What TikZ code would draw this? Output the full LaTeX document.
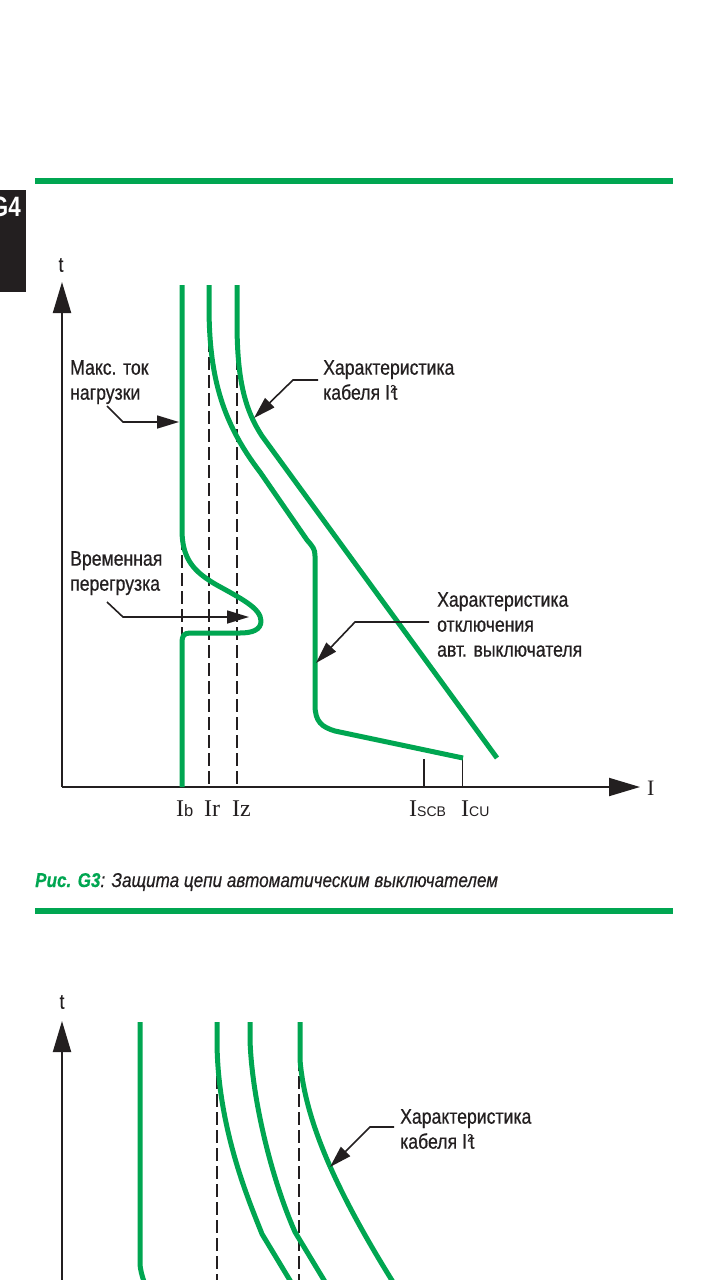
\documentclass[tikz,border=0pt]{standalone}
\usepackage{fontspec}
\setmainfont{Liberation Sans}
\newfontfamily\cond[FakeStretch=0.84,FakeBold=0.6]{Liberation Sans}
\newfontfamily\capfont[FakeStretch=0.855,FakeBold=0.4]{Liberation Sans}
\newfontfamily\tabfont[FakeStretch=0.8]{Liberation Sans}
\newfontfamily\tms{Liberation Serif}
\usetikzlibrary{arrows.meta}
\definecolor{sgreen}{RGB}{0,166,81}
\definecolor{ink}{RGB}{35,31,32}
\begin{document}
\begin{tikzpicture}[x=1pt,y=-1pt,
  gcurve/.style={draw=sgreen, line width=5pt, line join=round},
  dline/.style={draw=ink, line width=1.3pt, dash pattern=on 13pt off 5pt},
  axisline/.style={draw=ink, line width=2pt, -{Triangle[length=31pt,width=18pt]}},
  lead/.style={draw=ink, line width=1.6pt, -{Triangle[length=22pt,width=13pt]}},
  lbl/.style={font=\cond\fontsize{21}{25}\selectfont, align=left, inner sep=0pt, text=ink, anchor=north west},
  tick/.style={draw=ink, line width=1.3pt},
  hrule/.style={draw=sgreen, line width=6pt},
  cur/.style={inner sep=0pt, anchor=base west, text=ink},
  axl/.style={inner sep=0pt, text=ink, font=\cond\fontsize{21}{21}\selectfont}
]
\useasboundingbox (0,0) rectangle (720,1280);
\fill[white] (0,0) rectangle (720,1280);
\clip (0,0) rectangle (720,1280);

% ---- page decorations ----
\draw[hrule] (35,181) -- (673,181);
\draw[hrule] (35,911) -- (673,911);
\fill[ink] (0,190) rectangle (25.5,292);
\begin{scope}
\clip (0,190) rectangle (25.5,292);
\node[inner sep=0pt, anchor=north east, text=white, font=\tabfont\bfseries\fontsize{28}{28}\selectfont] (tab) at (21,197) {G4};
\end{scope}

% ================= GRAPH 1 =================
\coordinate (o1) at (62,787);
\coordinate (yt1) at (62,282);
\coordinate (xt1) at (640,787);

% dashed reference lines
\draw[dline] (182,285) -- (182,787);
\draw[dline] (209,285) -- (209,787);
\draw[dline] (237,285) -- (237,787);

% ticks
\coordinate (scb) at (424,787);
\coordinate (scbt) at (424,759);
\coordinate (cu) at (462.5,787);
\coordinate (cut) at (462.5,759);
\draw[tick] (scb) -- (scbt);
\draw[tick] (cu) -- (cut);

% axes
\draw[axisline] (o1) -- (yt1);
\draw[axisline] (o1) -- (xt1);
\node[axl] (t1) at (61,265) {t};
\node[cur, font=\tms\fontsize{22}{22}\selectfont] (Iax) at (647,795) {I};

% green curves
\draw[gcurve] (182,285) -- (182,530)
  .. controls (182,560) and (195,572) .. (215,584)
  .. controls (240,598) and (261,608) .. (261,621)
  .. controls (261,630) and (252,633) .. (240,633)
  -- (190,633) .. controls (184,633) and (182,636) .. (182,642) -- (182,787);
\draw[gcurve] (209,285) -- (209,305)
  .. controls (209,372) and (220,420) .. (260,472)
  -- (307,540) .. controls (313,547) and (315,549) .. (315,556)
  -- (315,705) .. controls (315,722) and (322,727) .. (335,731)
  -- (463,758);
\draw[gcurve] (237,285) -- (237,322)
  .. controls (237,380) and (245,410) .. (262,436) -- (497,758);

% current labels
\node[cur] (Ib) at (176,816) {{\tms\fontsize{24}{24}\selectfont I}{\fontsize{16.5}{16}\selectfont b}};
\node[cur] (Ir) at (204,816) {{\tms\fontsize{24}{24}\selectfont Ir}};
\node[cur] (Iz) at (232,816) {{\tms\fontsize{24}{24}\selectfont Iz}};
\node[cur] (Iscb) at (409,816) {{\tms\fontsize{24}{24}\selectfont I}{\fontsize{14}{14}\selectfont SCB}};
\node[cur] (Icu) at (461,816) {{\tms\fontsize{24}{24}\selectfont I}{\fontsize{14}{14}\selectfont CU}};

% annotation labels
\node[lbl] (lab1) at (70,360) {Макс. ток\\нагрузки};
\coordinate (l1s) at (107,406);
\coordinate (l1k) at (123,422);
\coordinate (l1t) at (179,422);
\draw[lead] (l1s) -- (l1k) -- (l1t);

\node[lbl] (lab2) at (70,551) {Временная\\перегрузка};
\coordinate (l2s) at (107,602);
\coordinate (l2k) at (123,617);
\coordinate (l2t) at (249,617);
\draw[lead] (l2s) -- (l2k) -- (l2t);

\node[lbl] (lab3) at (323,360) {Характеристика\\кабеля I\kern0.5pt\raisebox{7pt}{\fontsize{11}{11}\selectfont 2}\kern-3pt t};
\coordinate (l3s) at (318,380);
\coordinate (l3k) at (293,380);
\coordinate (l3t) at (254,418);
\draw[lead] (l3s) -- (l3k) -- (l3t);

\node[lbl] (lab4) at (437,592) {Характеристика\\отключения\\авт. выключателя};
\coordinate (l4s) at (429,622);
\coordinate (l4k) at (355,622);
\coordinate (l4t) at (316,663);
\draw[lead] (l4s) -- (l4k) -- (l4t);

% caption
\node[inner sep=0pt, anchor=base west, font=\capfont\itshape\fontsize{20}{20}\selectfont, text=ink] (cap) at (35,887)
  {{\color{sgreen}\bfseries Рис. G3}: Защита цепи автоматическим выключателем};

% ================= GRAPH 2 =================
\coordinate (o2) at (62,1300);
\coordinate (yt2) at (62,1021);
\node[axl] (t2) at (62,1002) {t};

\draw[dline] (217,1022) -- (217,1295);
\draw[dline] (299,1022) -- (299,1295);

\draw[axisline] (o2) -- (yt2);

\draw[gcurve] (140,1022) -- (140,1262) .. controls (140,1270) and (142,1275) .. (145,1285);
\draw[gcurve] (217,1022) -- (217,1040)
  .. controls (217,1130) and (252,1208) .. (262,1234) -- (297,1292);
\draw[gcurve] (250,1022) -- (250,1040)
  .. controls (252,1100) and (272,1180) .. (295,1232) -- (330,1290);
\draw[gcurve] (300,1022) -- (300,1060)
  .. controls (305,1120) and (335,1190) .. (398,1290);

\node[lbl] (lab5) at (400,1109) {Характеристика\\кабеля I\kern0.5pt\raisebox{7pt}{\fontsize{11}{11}\selectfont 2}\kern-3pt t};
\coordinate (l5s) at (394,1127);
\coordinate (l5k) at (370,1127);
\coordinate (l5t) at (330,1167);
\draw[lead] (l5s) -- (l5k) -- (l5t);
\end{tikzpicture}
\end{document}
